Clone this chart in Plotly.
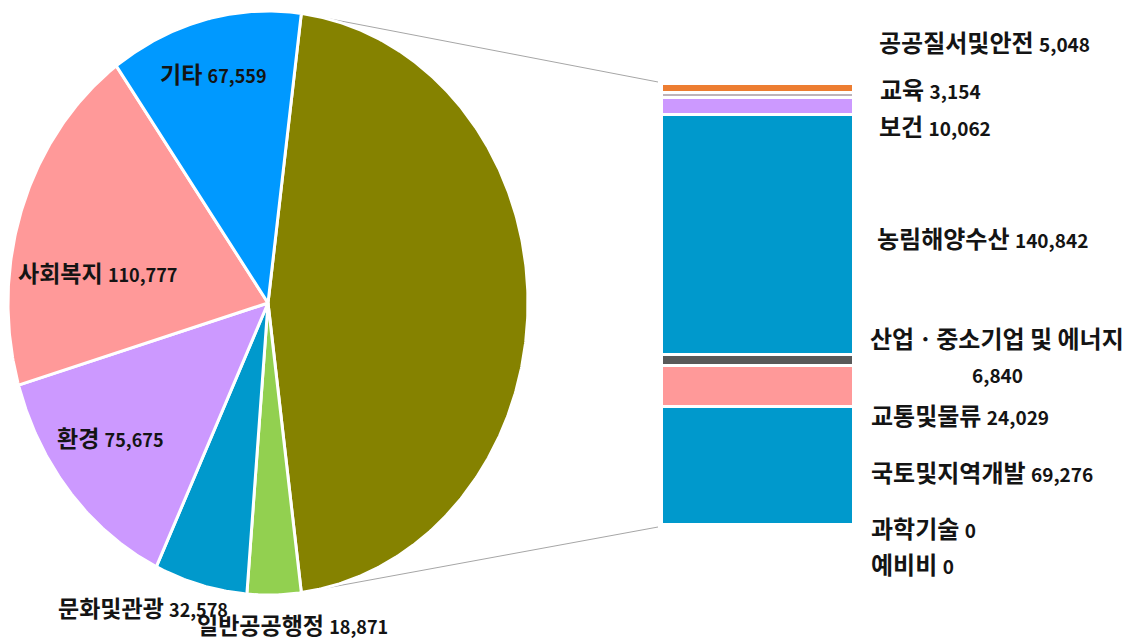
import math
import plotly.graph_objects as go

# ---------------- data ----------------
pie_categories = ["일반공공행정", "문화및관광", "환경", "사회복지", "기타"]
pie_values = [18871, 32578, 75675, 110777, 67559]

bar_categories = ["공공질서및안전", "교육", "보건", "농림해양수산",
                  "산업ㆍ중소기업 및 에너지", "교통및물류", "국토및지역개발",
                  "과학기술", "예비비"]
bar_values = [5048, 3154, 10062, 140842, 6840, 24029, 69276, 0, 0]

# ---------------- style ----------------
pie_colors = ["#92D050", "#0099CC", "#CC99FF", "#FF9999", "#0099FF"]
other_color = "#858200"
bar_colors = ["#ED7D31", "#BDB3BA", "#CC99FF", "#0099CC", "#595959",
              "#FF9999", "#0099CC", "#A5A5A5", "#FFC000"]

W, H = 1136, 641
PIE_L, PIE_R, PIE_T, PIE_B = 8, 528, 11, 595
BAR_L, BAR_R, BAR_T, BAR_B = 662, 854, 84, 525
FONT = "Noto Sans CJK KR"
TXT = "#141414"

# label positions (pixels): pie labels are centred, bar labels left-anchored
pie_label_px = [(292, 624), (143, 607), (110, 437), (97, 272), (213, 73)]
bar_label_px = [(877, 42), (878, 88), (877, 126), (875, 238), None,
                (869, 414), (869, 471), (869, 527), (869, 563)]
split_label_px = [(997, 337), (997, 374)]


def px2paper(x, y):
    return x / W, 1 - y / H


other_value = sum(bar_values)
total = other_value + sum(pie_values)

fig = go.Figure()

# ---------------- pie (drawn as elliptical slices) ----------------
slices = [(other_value, other_color)] + list(zip(pie_values, pie_colors))
angle = 90 - (other_value / total * 360) / 2  # clockwise from top
other_start = angle
other_end = angle + other_value / total * 360
for v, c in slices:
    a0 = angle
    a1 = angle + v / total * 360
    n = max(4, int((a1 - a0) * 2))
    ts = [a0 + (a1 - a0) * i / n for i in range(n + 1)]
    xs = [0] + [math.sin(math.radians(t)) for t in ts] + [0]
    ys = [0] + [math.cos(math.radians(t)) for t in ts] + [0]
    fig.add_trace(go.Scatter(x=xs, y=ys, mode="lines", fill="toself",
                             fillcolor=c, line=dict(color="white", width=3),
                             hoverinfo="skip", showlegend=False,
                             xaxis="x", yaxis="y"))
    angle = a1

# ---------------- bar (stacked, bottom first) ----------------
for name, v, c in reversed(list(zip(bar_categories, bar_values, bar_colors))):
    fig.add_trace(go.Bar(x=[0], y=[v], width=[1], name=name,
                         marker=dict(color=c, line=dict(color="white", width=3)),
                         showlegend=False, hoverinfo="skip",
                         xaxis="x2", yaxis="y2"))

# ---------------- connector lines ----------------
cx, cy = (PIE_L + PIE_R) / 2, (PIE_T + PIE_B) / 2
rx, ry = (PIE_R - PIE_L) / 2, (PIE_B - PIE_T) / 2
shapes = []
for a, by in [(other_start, BAR_T - 2), (other_end, BAR_B + 2)]:
    sx = cx + rx * math.sin(math.radians(a))
    sy = cy - ry * math.cos(math.radians(a))
    x0, y0 = px2paper(sx, sy)
    x1, y1 = px2paper(BAR_L - 4, by)
    shapes.append(dict(type="line", xref="paper", yref="paper",
                       x0=x0, y0=y0, x1=x1, y1=y1, layer="below",
                       line=dict(color="#A6A6A6", width=1)))

# ---------------- labels ----------------
annotations = []
for name, v, (lx, ly) in zip(pie_categories, pie_values, pie_label_px):
    x, y = px2paper(lx, ly)
    annotations.append(dict(
        x=x, y=y, xref="paper", yref="paper", showarrow=False,
        xanchor="center", yanchor="middle",
        text=f"{name} <span style='font-size:18px'>{v:,}</span>",
        font=dict(family=FONT, size=23, color=TXT, weight="bold")))

for name, v, pos in zip(bar_categories, bar_values, bar_label_px):
    if pos is None:
        (l1x, l1y), (l2x, l2y) = split_label_px
        x, y = px2paper(l1x, l1y)
        annotations.append(dict(
            x=x, y=y, xref="paper", yref="paper", showarrow=False,
            xanchor="center", yanchor="middle", text=name,
            font=dict(family=FONT, size=24, color=TXT, weight="bold")))
        x, y = px2paper(l2x, l2y)
        annotations.append(dict(
            x=x, y=y, xref="paper", yref="paper", showarrow=False,
            xanchor="center", yanchor="middle", text=f"{v:,}",
            font=dict(family=FONT, size=19, color=TXT, weight="bold")))
        continue
    lx, ly = pos
    x, y = px2paper(lx, ly)
    annotations.append(dict(
        x=x, y=y, xref="paper", yref="paper", showarrow=False,
        xanchor="left", yanchor="middle",
        text=f"{name} <span style='font-size:19px'>{v:,}</span>",
        font=dict(family=FONT, size=24, color=TXT, weight="bold")))

fig.update_layout(
    width=W, height=H, margin=dict(l=0, r=0, t=0, b=0),
    paper_bgcolor="white", plot_bgcolor="white",
    barmode="stack", bargap=0,
    xaxis=dict(domain=[PIE_L / W, PIE_R / W], range=[-1, 1], visible=False,
               fixedrange=True),
    yaxis=dict(domain=[1 - PIE_B / H, 1 - PIE_T / H], range=[-1, 1],
               visible=False, fixedrange=True),
    xaxis2=dict(domain=[BAR_L / W, BAR_R / W], range=[-0.5, 0.5],
                visible=False, anchor="y2", fixedrange=True),
    yaxis2=dict(domain=[1 - BAR_B / H, 1 - BAR_T / H],
                range=[0, other_value], visible=False, anchor="x2",
                fixedrange=True),
    shapes=shapes, annotations=annotations,
)

fig.write_html("out.html", config={"displayModeBar": False},
               post_script="document.body.style.margin='0px';"
                           "document.body.style.overflow='hidden';")
